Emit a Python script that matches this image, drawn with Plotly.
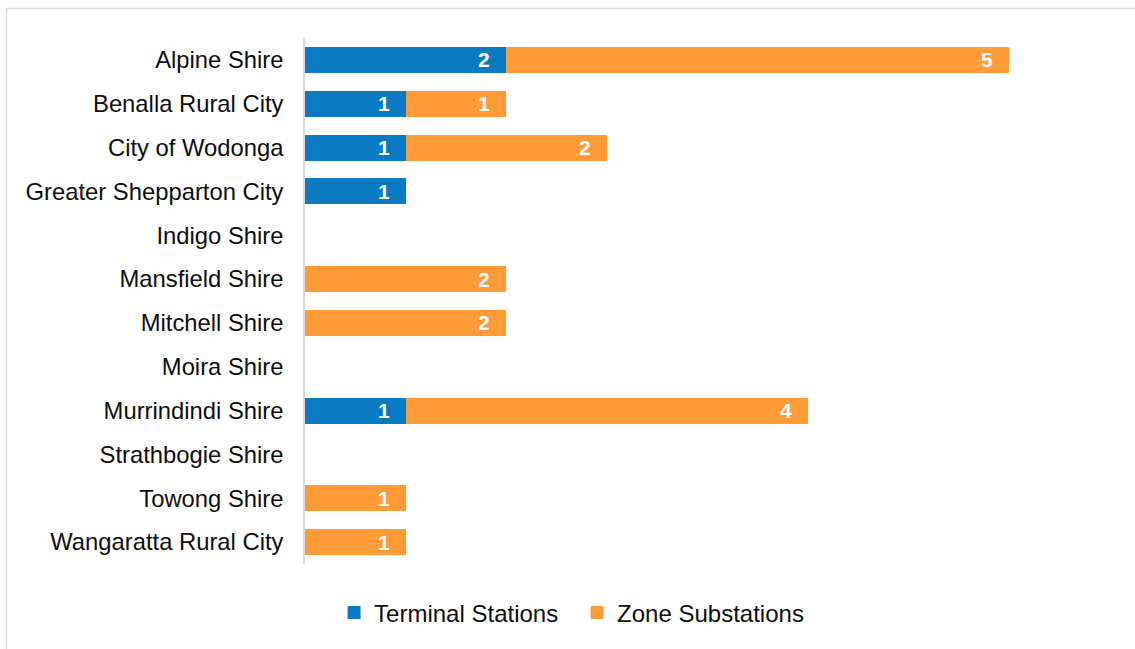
import plotly.graph_objects as go

# Local government areas, listed top to bottom
areas = [
    "Alpine Shire", "Benalla Rural City", "City of Wodonga",
    "Greater Shepparton City", "Indigo Shire", "Mansfield Shire",
    "Mitchell Shire", "Moira Shire", "Murrindindi Shire",
    "Strathbogie Shire", "Towong Shire", "Wangaratta Rural City",
]
terminal_stations = [2, 1, 1, 1, 0, 0, 0, 0, 1, 0, 0, 0]
zone_substations = [5, 1, 2, 0, 0, 2, 2, 0, 4, 0, 1, 1]

BLUE = "#0A7BC2"
ORANGE = "#FF9B37"
FONT = "Liberation Sans, Arial, sans-serif"


def nz(vals):
    return [v if v else None for v in vals]


fig = go.Figure()

fig.add_trace(go.Bar(
    y=areas, x=nz(terminal_stations), orientation="h",
    name="Terminal Stations", marker=dict(color=BLUE, line=dict(width=0)),
    width=0.59, showlegend=False, hoverinfo="x+y",
))
fig.add_trace(go.Bar(
    y=areas, x=nz(zone_substations), orientation="h",
    name="Zone Substations", marker=dict(color=ORANGE, line=dict(width=0)),
    width=0.59, showlegend=False, hoverinfo="x+y",
))

# Square legend markers
for name, color in [("Terminal Stations", BLUE), ("Zone Substations", ORANGE)]:
    fig.add_trace(go.Scatter(
        x=[None], y=[None], mode="markers", name=name,
        marker=dict(symbol="square", size=13, color=color),
        showlegend=True,
    ))

# Value labels placed inside the end of each segment
label_font = dict(family=FONT, size=21, color="white", weight="bold")
annotations = []
for area, t, z in zip(areas, terminal_stations, zone_substations):
    if t:
        annotations.append(dict(
            x=t, y=area, xref="x", yref="y", text=str(t),
            xanchor="center", yanchor="middle", xshift=-22, showarrow=False,
            font=label_font,
        ))
    if z:
        annotations.append(dict(
            x=t + z, y=area, xref="x", yref="y", text=str(z),
            xanchor="center", yanchor="middle", xshift=-22, showarrow=False,
            font=label_font,
        ))

fig.update_layout(
    barmode="stack",
    width=1135, height=649,
    margin=dict(l=305, r=25, t=38, b=85),
    paper_bgcolor="white", plot_bgcolor="white",
    font=dict(family=FONT, size=24, color="#0d0d0d"),
    annotations=annotations,
    legend=dict(
        orientation="h", x=0.338, xanchor="center", y=-0.093, yanchor="middle",
        font=dict(family=FONT, size=24, color="#0d0d0d"),
        itemwidth=30, tracegroupgap=0, traceorder="normal",
        entrywidth=198, entrywidthmode="pixels",
    ),
    shapes=[dict(
        type="rect", xref="paper", yref="paper",
        x0=-0.3708, x1=1.1, y0=1.0561, y1=-0.3,
        line=dict(color="#d9d9d9", width=1.5), fillcolor="rgba(0,0,0,0)",
        layer="below",
    )],
    showlegend=True,
)

fig.update_xaxes(
    range=[0, 8], showgrid=False, zeroline=False, showticklabels=False,
    showline=False, ticks="",
)
fig.update_yaxes(
    categoryorder="array", categoryarray=areas, autorange="reversed",
    showgrid=False, zeroline=False, showline=True, linecolor="#d9d9d9",
    linewidth=1.5, ticks="", ticklabelstandoff=15,
    tickfont=dict(family=FONT, size=23.8, color="#0d0d0d"),
)

fig.write_html("out.html")
